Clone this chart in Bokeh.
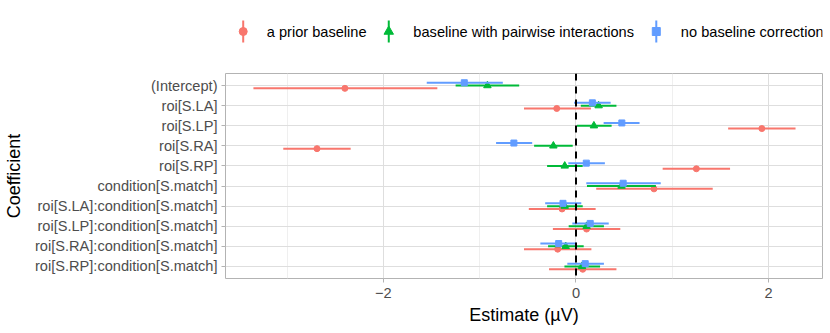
from bokeh.plotting import figure
from bokeh.models import Range1d, FixedTicker, Span, ColumnDataSource, Label
from bokeh.layouts import column
from bokeh.embed import file_html
from bokeh.resources import INLINE

# ---------------- data ----------------
coefficients = ["(Intercept)", "roi[S.LA]", "roi[S.LP]", "roi[S.RA]", "roi[S.RP]",
                "condition[S.match]", "roi[S.LA]:condition[S.match]",
                "roi[S.LP]:condition[S.match]", "roi[S.RA]:condition[S.match]",
                "roi[S.RP]:condition[S.match]"]

series_names = ["a prior baseline", "baseline with pairwise interactions", "no baseline correction"]

prior_est = [-2.40, -0.20, 1.93, -2.69, 1.25, 0.81, -0.145, 0.11, -0.19, 0.07]
prior_low = [-3.35, -0.54, 1.58, -3.04, 0.90, 0.21, -0.49, -0.24, -0.54, -0.28]
prior_high = [-1.44, 0.155, 2.28, -2.34, 1.60, 1.42, 0.204, 0.46, 0.16, 0.42]

pair_est = [-0.92, 0.235, 0.186, -0.235, -0.117, 0.473, -0.117, 0.11, -0.107, 0.062]
pair_low = [-1.25, 0.05, 0.01, -0.435, -0.30, 0.114, -0.30, -0.076, -0.29, -0.12]
pair_high = [-0.59, 0.42, 0.37, -0.034, 0.07, 0.83, 0.07, 0.29, 0.08, 0.25]

none_est = [-1.16, 0.17, 0.476, -0.645, 0.107, 0.49, -0.135, 0.148, -0.18, 0.096]
none_low = [-1.55, -0.02, 0.287, -0.83, -0.08, 0.107, -0.32, -0.038, -0.37, -0.09]
none_high = [-0.76, 0.36, 0.66, -0.455, 0.30, 0.88, 0.055, 0.34, 0.007, 0.29]

x_ticks = [-2, 0, 2]
x_tick_labels = ["\u22122", "0", "2"]

# ---------------- style / layout ----------------
FONT = "Liberation Sans"
colors = ["#F8766D", "#00BA38", "#619CFF"]
markers = ["circle", "triangle", "square"]
marker_sizes = [6, 7.5, 6]
dodge = [-0.14, 0.0, 0.14]

n = len(coefficients)
ypos = [n - i for i in range(n)]

W = 830
H = 333
LEFT = 223
RIGHT = 8
leg_h = 63

# ---------------- legend figure (coordinates = page pixels) ----------------
leg = figure(width=W, height=leg_h, x_range=Range1d(LEFT, W), y_range=Range1d(leg_h, 0),
             output_backend="svg", toolbar_location=None,
             min_border_left=LEFT, min_border_right=0, min_border_top=0, min_border_bottom=0)
leg.axis.visible = False
leg.grid.visible = False
leg.outline_line_color = None
glyph_x = [241, 389, 661]
text_x = [265, 414, 686]
yc = 31
for i, name in enumerate(series_names):
    leg.segment(x0=[glyph_x[i]], y0=[yc - 11], x1=[glyph_x[i]], y1=[yc + 11],
                line_color=colors[i], line_width=2)
    leg.scatter(x=[glyph_x[i]], y=[yc], marker=markers[i], size=marker_sizes[i] + 2,
                fill_color=colors[i], line_color=colors[i])
    leg.add_layout(Label(x=text_x[i], y=yc, text=name, text_font=FONT,
                         text_font_size="14.6px", text_baseline="middle", text_align="left",
                         text_color="#000000"))

# ---------------- main figure ----------------
p = figure(width=W, height=H - leg_h, x_range=Range1d(-3.64, 2.56),
           y_range=Range1d(0.4, n + 0.6), output_backend="svg", toolbar_location=None,
           min_border_left=LEFT, min_border_right=RIGHT, min_border_top=10, min_border_bottom=55)
p.background_fill_color = "white"
p.outline_line_color = "#B3B3B3"
p.outline_line_width = 1

p.xaxis.ticker = FixedTicker(ticks=x_ticks, minor_ticks=[-3, -1, 1])
p.yaxis.ticker = FixedTicker(ticks=ypos, minor_ticks=[])
p.xgrid.grid_line_color = "#DEDEDE"
p.xgrid.minor_grid_line_color = "#EFEFEF"
p.ygrid.grid_line_color = "#DEDEDE"

p.xaxis.major_label_overrides = {t: l for t, l in zip(x_ticks, x_tick_labels)}
p.yaxis.major_label_overrides = {y: c for y, c in zip(ypos, coefficients)}
for ax in (p.xaxis, p.yaxis):
    ax.axis_line_color = None
    ax.major_tick_line_color = "#B3B3B3"
    ax.major_tick_out = 4
    ax.major_tick_in = 0
    ax.minor_tick_line_color = None
    ax.major_label_text_font = FONT
    ax.major_label_text_font_size = "14.6px"
    ax.major_label_text_color = "#4D4D4D"
    ax.axis_label_text_font = FONT
    ax.axis_label_text_font_size = "18px"
    ax.axis_label_text_font_style = "normal"
    ax.axis_label_text_color = "#000000"
p.xaxis.axis_label = "Estimate (\u00b5V)"
p.yaxis.axis_label = "Coefficient"
p.xaxis.major_label_standoff = 5
p.xaxis.axis_label_standoff = 4
p.yaxis.major_label_standoff = 4
p.yaxis.axis_label_standoff = 8

series = [(prior_est, prior_low, prior_high), (pair_est, pair_low, pair_high),
          (none_est, none_low, none_high)]
for i, (est, lo, hi) in enumerate(series):
    yy = [y + dodge[i] for y in ypos]
    src = ColumnDataSource(dict(y=yy, est=est, lo=lo, hi=hi))
    p.segment(x0="lo", y0="y", x1="hi", y1="y", source=src, line_color=colors[i], line_width=2)
    p.scatter(x="est", y="y", source=src, marker=markers[i], size=marker_sizes[i],
              fill_color=colors[i], line_color=colors[i])

p.add_layout(Span(location=0, dimension="height", line_color="black", line_width=2,
                  line_dash="7 6"))

layout = column(leg, p)
open("out.html", "w").write(file_html(layout, INLINE))
